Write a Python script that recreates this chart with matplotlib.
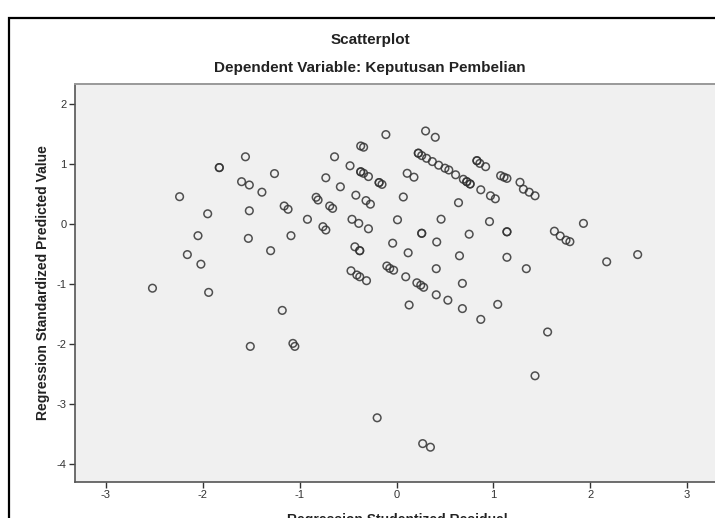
import numpy as np
import matplotlib
matplotlib.use("Agg")
import matplotlib.pyplot as plt
from matplotlib.patches import Rectangle

plt.rcParams.update({
    "font.family": ["Liberation Sans", "DejaVu Sans"],
    "font.size": 8,
    "axes.unicode_minus": False,
})

# Regression Studentized Residual (x) vs Regression Standardized Predicted Value (y)
resid = [
    -2.52, -2.24, -2.16, -2.05, -2.02, -1.95, -1.94, -1.83, -1.83, -1.60,
    -1.56, -1.53, -1.52, -1.52, -1.51, -1.39, -1.30, -1.26, -1.18, -1.16,
    -1.12, -1.09, -1.07, -1.05, -0.92, -0.83, -0.81, -0.76, -0.73, -0.73,
    -0.69, -0.66, -0.64, -0.58, -0.48, -0.47, -0.46, -0.43, -0.42, -0.41,
    -0.39, -0.38, -0.38, -0.38, -0.37, -0.34, -0.37, -0.37, -0.34, -0.315,
    -0.31, -0.29, -0.29, -0.27, -0.20, -0.18, -0.18, -0.15, -0.11, -0.10,
    -0.07, -0.04, -0.03, 0.01, 0.07, 0.095, 0.11, 0.12, 0.13, 0.18,
    0.21, 0.225, 0.225, 0.25, 0.26, 0.26, 0.26, 0.27, 0.28, 0.30,
    0.31, 0.35, 0.37, 0.40, 0.41, 0.41, 0.415, 0.435, 0.46, 0.50,
    0.53, 0.54, 0.61, 0.64, 0.65, 0.68, 0.68, 0.69, 0.725, 0.725,
    0.75, 0.76, 0.76, 0.83, 0.83, 0.86, 0.87, 0.87, 0.92, 0.96,
    0.97, 1.02, 1.045, 1.075, 1.11, 1.14, 1.14, 1.14, 1.14, 1.275,
    1.31, 1.34, 1.37, 1.43, 1.43, 1.56, 1.63, 1.69, 1.75, 1.79,
    1.93, 2.17, 2.49,
]
pred = [
    -1.07, 0.455, -0.51, -0.195, -0.67, 0.17, -1.14, 0.94, 0.94, 0.705,
    1.12, -0.24, 0.65, 0.22, -2.04, 0.53, -0.445, 0.84, -1.44, 0.30,
    0.245, -0.195, -1.99, -2.04, 0.078, 0.445, 0.40, -0.045, -0.10, 0.77,
    0.30, 0.26, 1.12, 0.62, 0.97, -0.78, 0.078, -0.38, 0.48, -0.85,
    0.01, -0.445, -0.445, -0.88, 1.30, 1.28, 0.87, 0.87, 0.845, 0.39,
    -0.945, 0.79, -0.08, 0.33, -3.23, 0.69, 0.69, 0.66, 1.49, -0.70,
    -0.74, -0.32, -0.77, 0.07, 0.45, -0.88, 0.845, -0.48, -1.35, 0.78,
    -0.98, 1.18, 1.18, -1.02, 1.14, -0.155, -0.155, -3.66, -1.055, 1.55,
    1.095, -3.72, 1.04, 1.445, -0.745, -1.18, -0.30, 0.98, 0.08, 0.93,
    -1.27, 0.90, 0.82, 0.355, -0.53, -0.99, -1.41, 0.745, 0.705, 0.705,
    -0.17, 0.667, 0.667, 1.055, 1.055, 1.01, 0.57, -1.59, 0.955, 0.04,
    0.47, 0.42, -1.34, 0.805, 0.78, 0.76, -0.13, -0.13, -0.555, 0.695,
    0.58, -0.745, 0.53, 0.47, -2.53, -1.80, -0.12, -0.20, -0.27, -0.295,
    0.01, -0.63, -0.51,
]
x_ticks = [-3, -2, -1, 0, 1, 2, 3]
y_ticks = [-4, -3, -2, -1, 0, 1, 2]

W, H = 715, 518
fig = plt.figure(figsize=(W / 100, H / 100), dpi=100)
fig.patch.set_facecolor("white")

# outer chart frame (cut off at right and bottom like the source screenshot)
fig.patches.append(Rectangle((9 / W, -0.2), 1.2, 1.2 - 18 / H,
                             transform=fig.transFigure, fill=False,
                             edgecolor="black", linewidth=1.6))

ax = fig.add_axes([75 / W, 1 - 482 / H, 645 / W, 398 / H])
ax.set_facecolor("#f0f0f0")
ax.scatter(resid, pred, s=30, facecolors="none", edgecolors="#333333",
           linewidths=1.1, alpha=0.85, zorder=3)

ax.set_xlim(-3.32, 3.34)
ax.set_ylim(-4.3, 2.333)
ax.set_xticks(x_ticks)
ax.set_yticks(y_ticks)
ax.tick_params(direction="out", length=4, width=1, color="#333333",
               labelcolor="#333333", labelsize=8, pad=2)

for side in ["left", "bottom"]:
    ax.spines[side].set_color("#555555")
    ax.spines[side].set_linewidth(1.2)
ax.spines["top"].set_color("#999999")
ax.spines["top"].set_linewidth(1.4)
ax.spines["right"].set_visible(False)

fig.text(370 / W, 1 - 40 / H, "Scatterplot", ha="center", va="center",
         fontsize=11, fontweight="bold", color="#222222")
fig.text(370 / W, 1 - 68 / H, "Dependent Variable: Keputusan Pembelian",
         ha="center", va="center", fontsize=11, fontweight="bold", color="#222222")
fig.text(43 / W, 1 - 283 / H, "Regression Standardized Predicted Value",
         ha="center", va="center", rotation=90, fontsize=10,
         fontweight="bold", color="#222222")
fig.text(397 / W, 1 - 513 / H, "Regression Studentized Residual",
         ha="center", va="top", fontsize=10, fontweight="bold", color="#222222")

fig.savefig("out.png", dpi=100)
